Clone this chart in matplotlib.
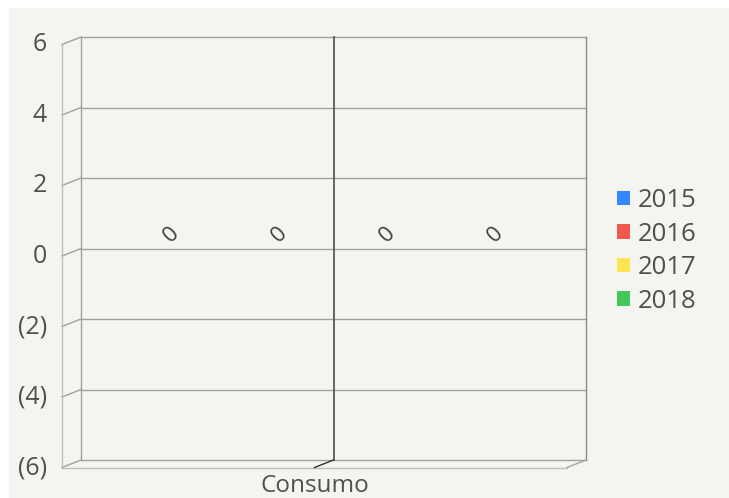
import matplotlib
matplotlib.use("Agg")
import matplotlib.pyplot as plt
from matplotlib.patches import Rectangle, Patch

plt.rcParams['font.family'] = ['Open Sans', 'DejaVu Sans']

# data
categories = ["Consumo"]
series = ["2015", "2016", "2017", "2018"]
values = [0, 0, 0, 0]
colors = ["#3388ff", "#f2584e", "#ffe552", "#43c75a"]
y_ticks = [-6, -4, -2, 0, 2, 4, 6]
y_labels = ["(6)", "(4)", "(2)", "0", "2", "4", "6"]

W, H = 729, 498
fig = plt.figure(figsize=(W / 100, H / 100), dpi=100, facecolor="white")
fig.patches.append(Rectangle((9 / W, 0), 1 - 9 / W, 1 - 8 / H,
                             transform=fig.transFigure, color="#f4f4f0", zorder=-10))

# back wall of the 3d plot
left, right, top, bottom = 81, 586, 37, 460
ax = fig.add_axes([left / W, 1 - bottom / H, (right - left) / W, (bottom - top) / H])
ax.set_xlim(0, 2)
ax.set_ylim(-6, 6)
ax.axis("off")

# depth offset in data units
px_y = 12 / (bottom - top)
dx = 19 / (right - left) * 2
dy = 7.5 * px_y

grid_c = "#a0a0a0"
kw = dict(clip_on=False, lw=1)
for t in y_ticks:
    ax.plot([0, 2], [t, t], color=grid_c, **kw)
    ax.plot([-dx, 0], [t - dy, t], color=grid_c, **kw)
ax.plot([0, 0], [-6, 6], color=grid_c, **kw)
ax.plot([2, 2], [-6, 6], color="#8c8c8c", **kw)
ax.plot([-dx, -dx], [-6 - dy, 6 - dy], color="#bdbdbd", **kw)
# floor
ax.plot([-dx, 2 - dx], [-6 - dy, -6 - dy], color="#bdbdbd", **kw)
ax.plot([2 - dx, 2], [-6 - dy, -6], color="#a6a6a6", **kw)
# category divider
ax.plot([1, 1], [-6, 6], color="#4d4d4d", lw=1.2, clip_on=False)
ax.plot([1 - dx, 1], [-6 - dy, -6], color="#333333", lw=1, clip_on=False)

# bars (all zero) and their labels
width = 0.428
for i, (s, v, c) in enumerate(zip(series, values, colors)):
    x = 1 + (i - 1.5) * width
    ax.bar(x, v, width=width * 0.8, color=c, bottom=0)
    ax.text(x, v + 0.4, f"{v}", rotation=45, ha="center", va="center",
            fontsize=16, color="#404040")

for t, lab in zip(y_ticks, y_labels):
    ax.text(-dx - 0.06, t - dy, lab, ha="right", va="center",
            fontsize=18, color="#505050", clip_on=False)

# category label under the floor
ax.text(1 - dx, -6 - 32 * px_y, categories[0], ha="center", va="baseline",
        fontsize=17.5, color="#505050", clip_on=False)

handles = [Patch(facecolor=c, edgecolor="none") for c in colors]
fig.legend(handles, series, loc="upper left", bbox_to_anchor=(594 / W, 1 - 165 / H),
           frameon=False, fontsize=18.5, handlelength=0.5, handleheight=0.5,
           handletextpad=0.3, labelspacing=0.33, labelcolor="#505050")

fig.savefig("out.png", dpi=100, facecolor=fig.get_facecolor())
